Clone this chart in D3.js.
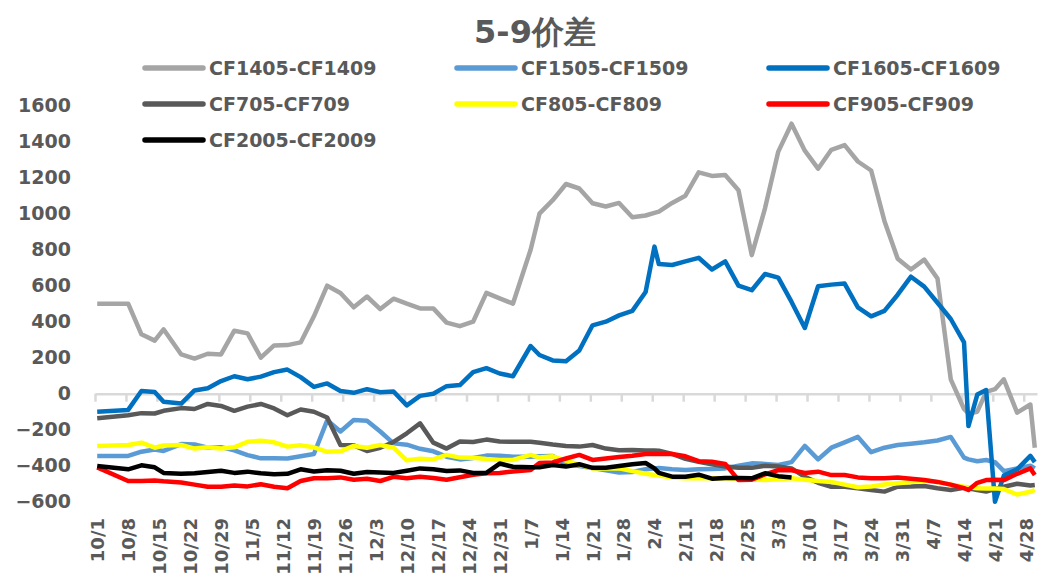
<!DOCTYPE html>
<html>
<head>
<meta charset="utf-8">
<script src="https://cdn.jsdelivr.net/npm/d3@7"></script>
<style>
  body { margin: 0; background: #fff; }
  text { font-family: "DejaVu Sans", sans-serif; font-weight: bold; fill: #595959; }
</style>
</head>
<body>
<svg id="chart" width="1042" height="577"></svg>
<script>
// trading dates (mapped onto one Oct-Apr season), values = 5月-9月 spread
var dates = [
  "2019-10-01","2019-10-08","2019-10-11","2019-10-14","2019-10-16","2019-10-20","2019-10-23","2019-10-26","2019-10-29","2019-11-01",
  "2019-11-04","2019-11-07","2019-11-10","2019-11-13","2019-11-16","2019-11-19","2019-11-22","2019-11-25","2019-11-28","2019-12-01",
  "2019-12-04","2019-12-07","2019-12-10","2019-12-13","2019-12-16","2019-12-19","2019-12-22","2019-12-25","2019-12-28","2019-12-31",
  "2020-01-03","2020-01-07","2020-01-09","2020-01-12","2020-01-15","2020-01-18","2020-01-21","2020-01-24","2020-01-27","2020-01-30",
  "2020-02-02","2020-02-04","2020-02-05","2020-02-08","2020-02-11","2020-02-14","2020-02-17","2020-02-20","2020-02-23","2020-02-26",
  "2020-02-29","2020-03-03","2020-03-06","2020-03-09","2020-03-12","2020-03-15","2020-03-18","2020-03-21","2020-03-24","2020-03-27",
  "2020-03-30","2020-04-02","2020-04-05","2020-04-08","2020-04-11","2020-04-14","2020-04-15","2020-04-17","2020-04-19","2020-04-21",
  "2020-04-23","2020-04-26","2020-04-29","2020-04-30"
];

var cf1405 = [
  500,500,330,295,358,218,195,222,218,350,
  335,200,268,270,285,430,600,560,480,540,
  470,528,500,474,474,395,375,400,560,530,
  500,800,1000,1075,1165,1140,1058,1040,1060,980,
  990,1005,1012,1060,1100,1230,1210,1215,1130,770,
  1030,1345,1500,1350,1250,1355,1381,1290,1240,960,
  750,690,745,640,80,-85,-110,-100,10,25,
  80,-105,-60,-300
];
var cf1505 = [
  -346,-346,-322,-310,-318,-280,-282,-300,-297,-315,
  -341,-359,-358,-360,-348,-335,-148,-210,-146,-150,
  -210,-276,-283,-306,-320,-350,-365,-357,-344,-345,
  -350,-350,-348,-346,-392,-402,-413,-425,-438,-435,
  -420,-415,-413,-420,-424,-420,-418,-415,-400,-387,
  -390,-396,-380,-290,-365,-300,-270,-240,-325,-300,
  -285,-278,-270,-260,-240,-355,-365,-375,-368,-380,
  -430,-415,-400,-415
];
var cf1605 = [
  -100,-90,15,10,-45,-55,18,30,70,97,
  80,95,120,134,92,38,57,15,5,25,
  8,12,-65,-12,0,42,48,120,142,112,
  97,265,215,185,180,240,380,400,435,460,
  565,817,720,715,735,755,690,735,600,575,
  665,645,510,365,597,606,612,480,430,460,
  550,650,595,505,415,285,-180,-5,20,-600,
  -455,-420,-345,-380
];
var cf705 = [
  -137,-120,-108,-110,-95,-80,-85,-57,-68,-95,
  -72,-57,-82,-120,-88,-100,-132,-285,-287,-318,
  -300,-268,-220,-165,-272,-305,-265,-268,-255,-266,
  -267,-267,-272,-282,-290,-294,-285,-305,-314,-313,
  -315,-316,-317,-335,-362,-378,-392,-405,-412,-412,
  -400,-405,-415,-462,-495,-517,-517,-525,-535,-544,
  -517,-516,-513,-525,-535,-522,-525,-535,-544,-530,
  -517,-500,-510,-507
];
var cf805 = [
  -291,-285,-272,-300,-288,-285,-305,-297,-305,-298,
  -267,-262,-270,-294,-287,-298,-323,-320,-290,-300,
  -285,-300,-370,-362,-365,-340,-355,-356,-363,-368,
  -368,-340,-355,-348,-372,-395,-415,-415,-415,-430,
  -445,-452,-455,-465,-470,-470,-470,-470,-472,-476,
  -480,-475,-470,-478,-485,-490,-505,-520,-515,-505,
  -498,-490,-482,-490,-505,-517,-520,-525,-526,-526,
  -530,-560,-545,-535
];
var cf905 = [
  -409,-485,-485,-482,-487,-493,-505,-517,-517,-510,
  -515,-503,-517,-525,-485,-470,-470,-465,-478,-472,
  -485,-462,-470,-462,-468,-478,-464,-450,-442,-440,
  -432,-424,-385,-382,-360,-340,-368,-360,-352,-345,
  -335,-335,-335,-335,-348,-375,-378,-390,-480,-478,
  -448,-424,-425,-440,-433,-452,-452,-465,-470,-470,
  -465,-472,-480,-490,-505,-525,-535,-495,-480,-478,
  -480,-445,-415,-452
];
var cf2005 = [
  -402,-420,-398,-409,-440,-445,-442,-435,-428,-440,
  -433,-442,-448,-445,-420,-432,-425,-428,-445,-435,
  -438,-440,-428,-415,-420,-430,-426,-440,-440,-388,
  -406,-409,-409,-396,-405,-392,-412,-411,-402,-392,
  -385,-415,-440,-461,-461,-450,-472,-468,-468,-470,
  -442,-458,-465,null,null,null,null,null,null,null,
  null,null,null,null,null,null,null,null,null,null,
  null,null,null,null
];

var seriesNames = ["CF1405-CF1409","CF1505-CF1509","CF1605-CF1609","CF705-CF709","CF805-CF809","CF905-CF909","CF2005-CF2009"];
var seriesValues = [cf1405, cf1505, cf1605, cf705, cf805, cf905, cf2005];
var seriesColors = ["#A5A5A5","#5B9BD5","#0070C0","#595959","#FFFF00","#FF0000","#000000"];
var yTicks = [-600,-400,-200,0,200,400,600,800,1000,1200,1400,1600];

var svg = d3.select("#chart");
var parse = d3.utcParse("%Y-%m-%d");
var dayStart = parse("2019-10-01"), dayEnd = parse("2020-05-01");

var x = d3.scaleUtc().domain([dayStart, dayEnd]).range([95, 1037]);
var y = d3.scaleLinear().domain([-600, 1600]).range([501.7, 105.7]);

// title
svg.append("text")
    .attr("x", 535).attr("y", 43)
    .attr("text-anchor", "middle")
    .style("font-size", "32px")
    .text("5-9价差");

// y axis labels
var yAxis = svg.append("g")
    .attr("transform", "translate(73,0)")
    .call(d3.axisLeft(y).tickValues(yTicks).tickSize(0).tickPadding(2).tickFormat(d3.format("d")));
yAxis.select(".domain").remove();
yAxis.selectAll("text").style("font-size", "19px").style("font-family", null).attr("fill", null);

// zero line with weekly tick marks
var weeks = d3.utcDay.range(dayStart, dayEnd, 7);
var zeroAxis = svg.append("g")
    .attr("transform", `translate(0,${y(0)})`)
    .call(d3.axisBottom(x).tickValues(weeks).tickSizeInner(8).tickSizeOuter(0).tickFormat(""));
zeroAxis.select(".domain").attr("stroke", "#D9D9D9").attr("stroke-width", 2.5);
zeroAxis.selectAll(".tick line").attr("stroke", "#D9D9D9").attr("stroke-width", 2.5);

// date labels at the bottom, rotated
var mid = weeks.map(d => d3.utcHour.offset(d, 12));
var xLab = svg.append("g")
    .attr("transform", "translate(0,518)")
    .call(d3.axisBottom(x).tickValues(mid).tickSize(0).tickFormat(d3.utcFormat("%-m/%-d")));
xLab.select(".domain").remove();
xLab.selectAll("text")
    .style("font-size", "18px").style("font-family", null).attr("fill", null)
    .attr("transform", "rotate(-90)")
    .attr("text-anchor", "end")
    .attr("x", 0).attr("y", 0).attr("dy", "0.36em");

// series lines
var pts = dates.map(d => d3.utcHour.offset(parse(d), 12));
var line = d3.line()
    .defined(d => d.v != null)
    .x(d => x(d.t))
    .y(d => y(d.v));

seriesValues.forEach(function (vals, i) {
    var data = vals.map((v, j) => ({t: pts[j], v: v}));
    svg.append("path")
        .datum(data)
        .attr("fill", "none")
        .attr("stroke", seriesColors[i])
        .attr("stroke-width", 4.5)
        .attr("stroke-linejoin", "round")
        .attr("d", line);
});

// legend
var legend = svg.append("g");
seriesNames.forEach(function (name, i) {
    var lx = 145 + (i % 3) * 312, ly = 68 + Math.floor(i / 3) * 36;
    legend.append("line")
        .attr("x1", lx).attr("x2", lx + 58)
        .attr("y1", ly).attr("y2", ly)
        .attr("stroke", seriesColors[i])
        .attr("stroke-width", 5.5)
        .attr("stroke-linecap", "round");
    legend.append("text")
        .attr("x", lx + 64).attr("y", ly)
        .attr("dy", "0.36em")
        .style("font-size", "19px")
        .text(name);
});
</script>
</body>
</html>
